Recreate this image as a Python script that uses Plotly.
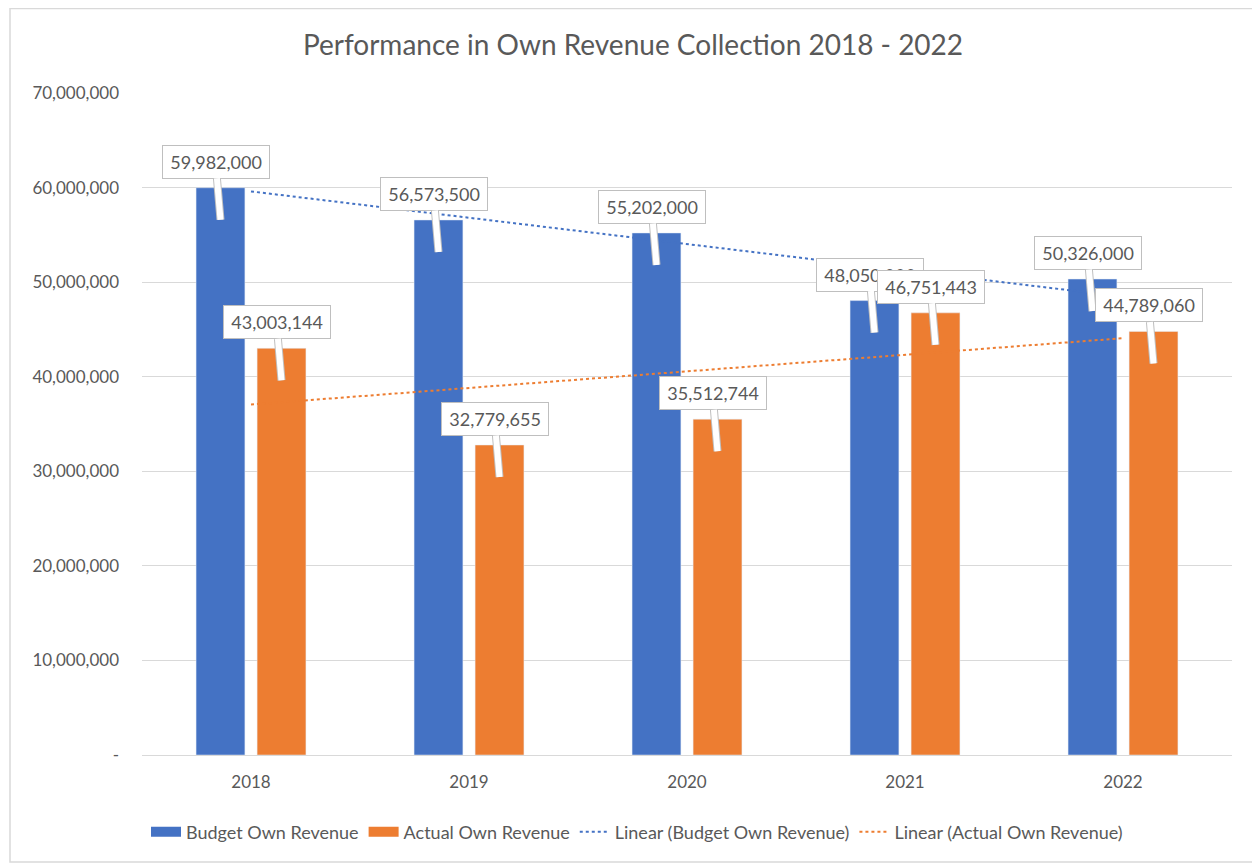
import numpy as np
import plotly.graph_objects as go

years = ["2018", "2019", "2020", "2021", "2022"]
budget = [59982000, 56573500, 55202000, 48050000, 50326000]
actual = [43003144, 32779655, 35512744, 46751443, 44789060]
ytick_vals = [0, 10000000, 20000000, 30000000, 40000000, 50000000, 60000000, 70000000]
ytick_text = ["-", "10,000,000", "20,000,000", "30,000,000", "40,000,000",
              "50,000,000", "60,000,000", "70,000,000"]

BLUE = "#4472C4"
ORANGE = "#ED7D31"
GRAY = "#595959"
FONT = "Lato"

# page body has an 8px margin, so the figure is drawn 8px smaller and offset
W, H = 1252, 857
OFF = 8

idx = np.arange(len(years))
b_fit = np.polyval(np.polyfit(idx, budget, 1), idx)
a_fit = np.polyval(np.polyfit(idx, actual, 1), idx)

fig = go.Figure()
fig.add_trace(go.Bar(x=years, y=budget, name="Budget Own Revenue", marker_color=BLUE,
                     showlegend=False))
fig.add_trace(go.Bar(x=years, y=actual, name="Actual Own Revenue", marker_color=ORANGE,
                     showlegend=False))
fig.add_trace(go.Scatter(x=years, y=b_fit, mode="lines", name="Linear (Budget Own Revenue)",
                         line=dict(color=BLUE, width=2, dash="dot"), legendrank=3))
fig.add_trace(go.Scatter(x=years, y=a_fit, mode="lines", name="Linear (Actual Own Revenue)",
                         line=dict(color=ORANGE, width=2, dash="dot"), legendrank=4))
# legend swatches for the bar series (wide rectangles as in the reference)
fig.add_trace(go.Scatter(x=[None], y=[None], mode="lines", name="Budget Own Revenue",
                         line=dict(color=BLUE, width=10), legendrank=1))
fig.add_trace(go.Scatter(x=[None], y=[None], mode="lines", name="Actual Own Revenue",
                         line=dict(color=ORANGE, width=10), legendrank=2))

annotations = []
SLOT = 30.5
for vals, shift in ((budget, -SLOT), (actual, SLOT)):
    for i, v in enumerate(vals):
        txt = "\u2009" + f"{v:,}" + "\u2009"
        common = dict(x=i, y=v, xref="x", yref="y", text=txt, showarrow=True,
                      arrowhead=0, ax=-5, ay=-58, xshift=shift, yshift=-32,
                      borderpad=5)
        # outline of the pointer
        annotations.append(dict(common, arrowcolor="#BFBFBF", arrowwidth=8,
                                font=dict(family=FONT, size=18, color="rgba(0,0,0,0)"),
                                bgcolor="rgba(0,0,0,0)", borderwidth=1,
                                bordercolor="rgba(0,0,0,0)"))
        annotations.append(dict(common, arrowcolor="white", arrowwidth=6,
                                font=dict(family=FONT, size=18, color=GRAY),
                                bgcolor="white", bordercolor="#BFBFBF", borderwidth=1))

ml, mr, mt, mb = 142 - OFF, 28, 93 - OFF, 110
pw = W - ml - mr
ph = H - mt - mb

fig.update_layout(
    width=W, height=H,
    margin=dict(l=ml, r=mr, t=mt, b=mb, autoexpand=False),
    paper_bgcolor="white", plot_bgcolor="white",
    barmode="group", bargap=0.44, bargroupgap=0.2,
    title=dict(text="Performance in Own Revenue Collection 2018 - 2022",
               font=dict(family=FONT, size=28, color=GRAY),
               x=(633 - OFF) / W, xref="container", xanchor="center",
               y=1 - (45 - OFF) / H, yref="container", yanchor="middle"),
    font=dict(family=FONT, color=GRAY),
    showlegend=True,
    legend=dict(orientation="h", xref="container", x=(637 - OFF) / W, xanchor="center",
                yref="container", y=1 - (832 - OFF) / H, yanchor="middle",
                font=dict(family=FONT, size=18, color=GRAY), traceorder="normal"),
    annotations=annotations,
    shapes=[dict(type="rect", xref="paper", yref="paper",
                 x0=(10 - OFF - ml) / pw, x1=(1255 - OFF - ml) / pw,
                 y0=(mt + ph - (862 - OFF)) / ph, y1=(mt + ph - 0.5) / ph,
                 line=dict(color="#D9D9D9", width=1.5), layer="below")],
)
fig.update_yaxes(range=[0, 70000000], tickvals=ytick_vals, ticktext=ytick_text,
                 showgrid=True, gridcolor="#D9D9D9", gridwidth=1, zeroline=False,
                 showline=False, ticks="", ticklabelstandoff=22, automargin=False,
                 tickfont=dict(family=FONT, size=17, color=GRAY))
fig.update_xaxes(type="category", range=[-0.5, len(years) - 0.5],
                 showline=True, linecolor="#D9D9D9", linewidth=1,
                 ticks="", ticklabelstandoff=12, automargin=False,
                 tickfont=dict(family=FONT, size=17, color=GRAY))

fig.write_html("out.html")
